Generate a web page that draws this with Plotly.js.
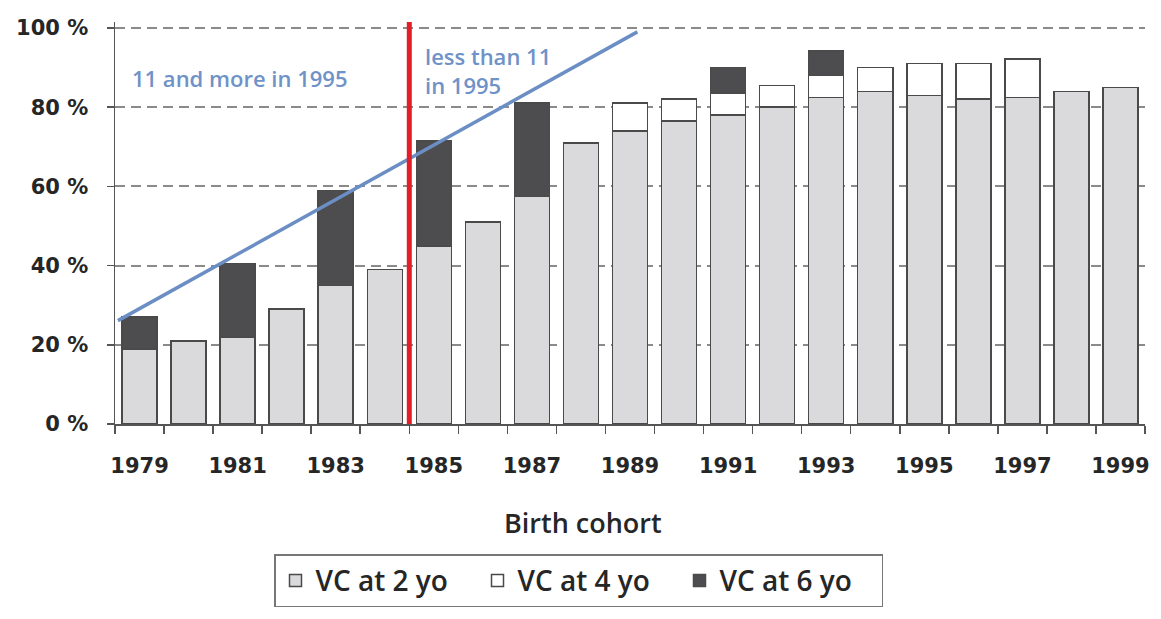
<!DOCTYPE html>
<html>
<head>
<meta charset="utf-8">
<script src="https://cdn.plot.ly/plotly-3.0.1.min.js"></script>
<style>html,body{margin:0;padding:0;background:#fff;}#chart{width:1161px;height:619px;}</style>
</head>
<body>
<div id="chart"></div>
<script>
// Birth cohorts
const cohorts = [1979,1980,1981,1982,1983,1984,1985,1986,1987,1988,1989,1990,1991,1992,1993,1994,1995,1996,1997,1998,1999];
// Vaccination coverage at 2 years old (%)
const vc2 = [19,21,22,29,35,39,45,51,57.5,71,74,76.5,78,80,82.5,84,83,82,82.5,84,85];
// Additional coverage reached at 4 years old (%)
const vc4 = [null,null,null,null,null,null,null,null,null,null,7,5.5,5.6,5.5,5.5,6,8,9,9.7,null,null];
// Additional coverage reached at 6 years old (%)
const vc6 = [8,null,18.5,null,24,null,26.5,null,23.5,null,null,null,6.4,null,6.2,null,null,null,null,null,null];
// Tick labels
const yTicks = [0,20,40,60,80,100];
const xTickLabels = [1979,1981,1983,1985,1987,1989,1991,1993,1995,1997,1999];
// Annotation line (age threshold trend) end points
const trendX = [1978.56, 1989.15];
const trendY = [26.1, 99.0];
// Divider between "11 and more in 1995" and "less than 11 in 1995"
const dividerX = [1984.5, 1984.5];
const dividerY = [0, 101.5];

const outline = {color:'#4a4a4a', width:1.5};
const traces = [
  {type:'bar', name:'VC at 2 yo', x:cohorts, y:vc2, marker:{color:'#dadadc', line:outline}},
  {type:'bar', name:'VC at 4 yo', x:cohorts, y:vc4, marker:{color:'#ffffff', line:outline}},
  {type:'bar', name:'VC at 6 yo', x:cohorts, y:vc6, marker:{color:'#4d4d4f', line:outline}},
  {type:'scatter', mode:'lines', x:trendX, y:trendY, line:{color:'#6b8ec4', width:3.5}, showlegend:false, hoverinfo:'skip'},
  {type:'scatter', mode:'lines', x:dividerX, y:dividerY, line:{color:'#e41e26', width:5}, showlegend:false, hoverinfo:'skip'}
];

const tickFont = {family:'DejaVu Sans', size:21, color:'#262626', weight:'bold'};
const blueFont = {family:'Open Sans', size:22, color:'#6f92c9', weight:600};

const layout = {
  width:1161, height:619,
  margin:{l:115, r:16, t:22, b:193},
  paper_bgcolor:'#ffffff', plot_bgcolor:'#ffffff',
  barmode:'stack', bargap:0.286,
  showlegend:true,
  legend:{orientation:'h', x:0.45, xanchor:'center', y:-0.324, yanchor:'top',
          traceorder:'normal', bgcolor:'#ffffff', bordercolor:'#777777', borderwidth:1.5,
          entrywidth:157, entrywidthmode:'pixels',
          font:{family:'Open Sans', size:28, color:'#262626', weight:600}},
  xaxis:{type:'linear', range:[1978.5,1999.5], tickvals:xTickLabels, ticktext:xTickLabels.map(String),
         ticks:'', showgrid:false, zeroline:false, showline:true, linecolor:'#555555', linewidth:1.5,
         tickfont:tickFont, ticklabelstandoff:22,
         minor:{tick0:1978.5, dtick:1, ticks:'outside', ticklen:8, tickwidth:1.5, tickcolor:'#555555', showgrid:false}},
  yaxis:{range:[0,101.5], tickvals:yTicks, ticktext:yTicks.map(v=>v+' %'),
         ticks:'outside', ticklen:7, tickwidth:1.5, tickcolor:'#555555',
         showline:true, linecolor:'#555555', linewidth:1.5, zeroline:false,
         showgrid:true, gridcolor:'#8a8a8a', gridwidth:2, griddash:'10px,6px',
         tickfont:{family:'DejaVu Sans', size:21, color:'#262626', weight:'bold'}, ticklabelstandoff:14},
  annotations:[
    {xref:'paper', yref:'paper', x:0.454, y:-0.245, xanchor:'center', yanchor:'middle', showarrow:false,
     text:'Birth cohort', font:{family:'Open Sans', size:27, color:'#262626', weight:600}},
    {xref:'x', yref:'y', x:1978.8, y:87.4, xanchor:'left', yanchor:'middle', showarrow:false,
     text:'11 and more in 1995', font:blueFont},
    {xref:'x', yref:'y', x:1984.78, y:89.2, xanchor:'left', yanchor:'middle', align:'left', showarrow:false,
     text:'less than 11<br>in 1995', font:blueFont}
  ]
};

Plotly.newPlot('chart', traces, layout, {displayModeBar:false, staticPlot:true});
</script>
</body>
</html>
